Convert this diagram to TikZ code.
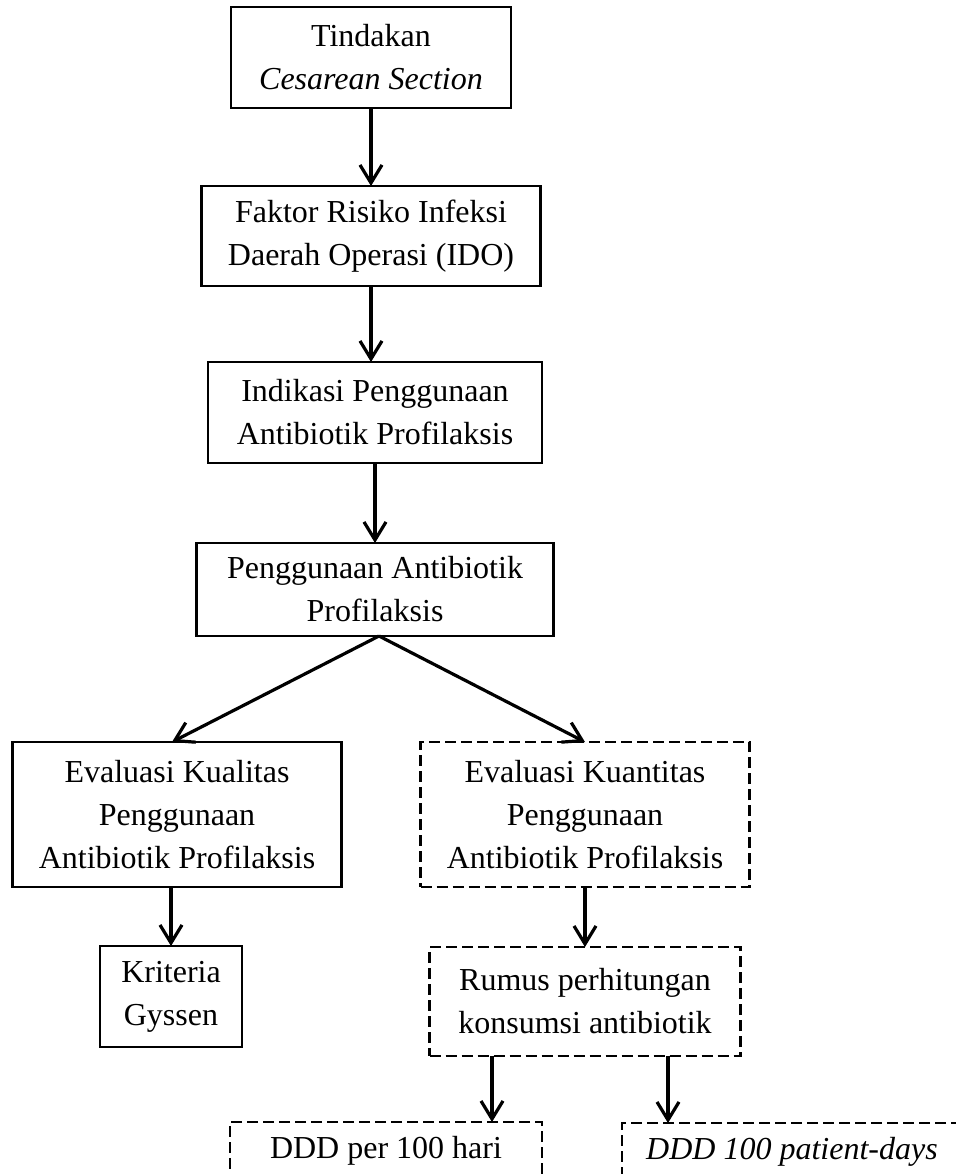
\documentclass[tikz,border=0pt]{standalone}
\usepackage{fontspec}
\setmainfont{Liberation Serif}
\usetikzlibrary{arrows.meta, positioning}

\begin{document}
\begin{tikzpicture}[
        x=0.5pt, y=-0.5pt, % one unit is one pixel of the page
        node distance=39pt, % gap between the boxes
        box/.style={draw, line width=1.1pt, outer sep=0pt, align=center, inner sep=4pt,
          font=\fontsize{16pt}{21.5pt}\selectfont},
        dbox/.style={box, dash pattern=on 5.5pt off 2.5pt},
        arr/.style={->, line width=1.6pt}, % arrow style
        >={Straight Barb[length=9pt, width=11pt]} % arrowhead style
      ]

      \useasboundingbox (0,0) rectangle (956,1174);
      \clip (0,0) rectangle (956,1174);

      % Nodes
      \node (tindakan) [box, minimum width=140pt, minimum height=50.5pt] at (371,57.5)
        {Tindakan\\\textit{Cesarean Section}};
      \node (faktor) [box, minimum width=169.5pt, minimum height=50pt, below=of tindakan]
        {Faktor Risiko Infeksi\\Daerah Operasi (IDO)};
      \node (indikasi) [box, minimum width=167pt, minimum height=50.5pt, below=38pt of faktor, xshift=2pt]
        {Indikasi Penggunaan\\Antibiotik Profilaksis};
      \node (penggunaan) [box, minimum width=178.5pt, minimum height=46.5pt, below=40pt of indikasi]
        {Penggunaan Antibiotik\\Profilaksis};
      \node (kualitas) [box, minimum width=164.5pt, minimum height=72.5pt, below=53pt of penggunaan, xshift=-99pt]
        {Evaluasi Kualitas\\Penggunaan\\Antibiotik Profilaksis};
      \node (kuantitas) [dbox, minimum width=164.5pt, minimum height=72.5pt, below=53pt of penggunaan, xshift=105pt]
        {Evaluasi Kuantitas\\Penggunaan\\Antibiotik Profilaksis};
      \node (kriteria) [box, minimum width=71pt, minimum height=50.5pt, below=29.5pt of kualitas, xshift=-3pt]
        {Kriteria\\Gyssen};
      \node (rumus) [dbox, minimum width=155.5pt, minimum height=54.5pt, below=30pt of kuantitas]
        {Rumus perhitungan\\konsumsi antibiotik};
      \node (dddhari) [dbox, minimum width=156pt, text height=14pt, text depth=40pt, below=33pt of rumus, xshift=-99.5pt]
        {DDD per 100 hari};
      \node (dddpasien) [dbox, minimum width=170pt, text height=14pt, text depth=40pt, below=33.5pt of rumus, xshift=103.5pt]
        {\textit{DDD 100 patient-days}};

      % Arrows
      \draw[arr] (tindakan) -- (faktor);
      \draw[arr] (faktor.south) -- (faktor.south |- indikasi.north);
      \draw[arr] (indikasi) -- (penggunaan);
      \draw[arr] ([xshift=2pt]penggunaan.south) -- ([xshift=-2.5pt]kualitas.north);
      \draw[arr] ([xshift=2pt]penggunaan.south) -- (kuantitas.north);
      \draw[arr] (kriteria.north |- kualitas.south) -- (kriteria.north);
      \draw[arr] (kuantitas) -- (rumus);
      \draw[arr] ([xshift=31.25pt]rumus.south west) -- ([xshift=31.25pt]rumus.south west |- dddhari.north);
      \draw[arr] ([xshift=-36.25pt]rumus.south east) -- ([xshift=-36.25pt]rumus.south east |- dddpasien.north);

    \end{tikzpicture}
\end{document}
